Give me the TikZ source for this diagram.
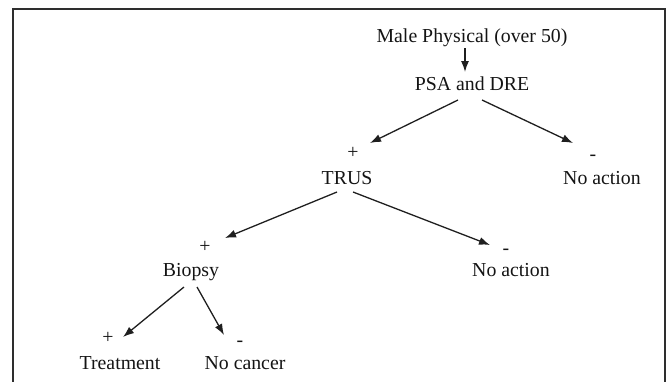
\documentclass[tikz,border=0pt]{standalone}
\usepackage{fontspec}
\setmainfont{Liberation Serif}
\usetikzlibrary{arrows.meta,calc}
\begin{document}
\begin{tikzpicture}[x=1pt,y=-1pt,
  lbl/.style={anchor=base,inner sep=0pt,font=\fontsize{19.8}{22}\selectfont,text=black!92},
  arr/.style={line width=1.3pt,draw=black!88,-{Latex[length=11pt,width=8pt]}},
  frame/.style={line width=1.8pt,draw=black!82}]
\useasboundingbox (0,0) rectangle (667,381);
\draw[frame] (13,383) -- (13,9) -- (665,9) -- (665,383);
\node[lbl] (male) at (472,42) {Male Physical (over 50)};
\node[lbl] (psa) at (472,90) {PSA and DRE};
\node[lbl] (p1) at (353,158) {+};
\node[lbl] (trus) at (347,184) {TRUS};
\node[lbl] (m1) at (593,160) {-};
\node[lbl] (na1) at (602,184) {No action};
\node[lbl] (p2) at (205,252) {+};
\node[lbl] (bio) at (191,276) {Biopsy};
\node[lbl] (m2) at (506,254) {-};
\node[lbl] (na2) at (511,276) {No action};
\node[lbl] (p3) at (108,343) {+};
\node[lbl] (m3) at (240,346) {-};
\node[lbl] (treat) at (120,369) {Treatment};
\node[lbl] (nc) at (245,369) {No cancer};
\draw[arr] ($(male.base)+(-7,6)$) -- ($(psa.base)+(-7,-18)$);
\draw[arr] ($(psa.base)+(-14,10)$) -- ($(p1.base)+(17,-15)$);
\draw[arr] ($(psa.base)+(10,10)$) -- ($(m1.base)+(-20,-17)$);
\draw[arr] ($(trus.base)+(-10,8)$) -- ($(p2.base)+(20,-14)$);
\draw[arr] ($(trus.base)+(6,8)$) -- ($(m2.base)+(-16,-9)$);
\draw[arr] ($(bio.base)+(-7,11)$) -- ($(p3.base)+(15,-6)$);
\draw[arr] ($(bio.base)+(6,11)$) -- ($(m3.base)+(-16,-11)$);
\end{tikzpicture}
\end{document}
